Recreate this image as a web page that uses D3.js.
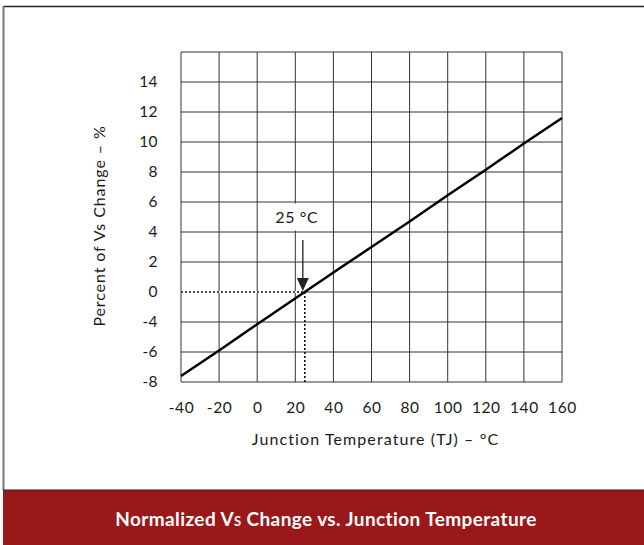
<!DOCTYPE html>
<html>
<head>
<meta charset="utf-8">
<script src="https://cdn.jsdelivr.net/npm/d3@7"></script>
<style>
  body { margin: 0; background: #fff; }
  text { font-family: Lato, "Open Sans", sans-serif; fill: #1a1a1a; }
</style>
</head>
<body>
<svg id="chart"></svg>
<script>
// data
var temps = [-40, -20, 0, 40, 60, 80, 100, 120, 140, 160];
var change = [-5.6, -3.9, -2.15, 1.3, 3.0, 4.7, 6.45, 8.15, 9.9, 11.6];
var xTicks = [-40, -20, 0, 20, 40, 60, 80, 100, 120, 140, 160];
var xTickLabels = ["-40", "-20", "0", "20", "40", "60", "80", "100", "120", "140", "160"];
var yTicks = [-6, -4, -2, 0, 2, 4, 6, 8, 10, 12, 14];
var yTickLabels = ["-8", "-6", "-4", "0", "2", "4", "6", "8", "10", "12", "14"];
var refTemp = 25;

var W = 644, H = 545;
var margin = {top: 52, right: 82, bottom: 163, left: 181},
    width = W - margin.left - margin.right,
    height = H - margin.top - margin.bottom;

var svg = d3.select("#chart").attr("width", W).attr("height", H);

// outer frame and banner
svg.append("line").attr("x1", 3).attr("x2", W).attr("y1", 6.5).attr("y2", 6.5)
  .attr("stroke", "#222").attr("stroke-width", 1.5);
svg.append("line").attr("x1", 3.5).attr("x2", 3.5).attr("y1", 6).attr("y2", 490)
  .attr("stroke", "#777").attr("stroke-width", 2);
svg.append("rect").attr("x", 3).attr("y", 490).attr("width", W - 3).attr("height", H - 490)
  .attr("fill", "#9a1819");
svg.append("line").attr("x1", 3).attr("x2", W).attr("y1", 490).attr("y2", 490)
  .attr("stroke", "#222").attr("stroke-width", 1.2);
var title = svg.append("text")
  .attr("x", 326).attr("y", 526)
  .attr("text-anchor", "middle")
  .attr("font-size", 19).attr("font-weight", "bold").attr("letter-spacing", 0.4)
  .style("fill", "#fff");
title.append("tspan").text("Normalized V");
title.append("tspan").attr("font-size", 13).text("S");
title.append("tspan").text(" Change vs. Junction Temperature");

var g = svg.append("g").attr("transform", "translate(" + margin.left + "," + margin.top + ")");

var x = d3.scaleLinear().domain([-40, 160]).range([0, width]);
var y = d3.scaleLinear().domain([-6, 16]).range([height, 0]);

// grid
g.append("g").attr("class", "grid")
  .selectAll("line").data(xTicks).enter().append("line")
  .attr("x1", function(d) { return x(d); }).attr("x2", function(d) { return x(d); })
  .attr("y1", 0).attr("y2", height)
  .attr("stroke", "#333").attr("stroke-width", 1);
g.append("g").attr("class", "grid")
  .selectAll("line").data(d3.range(-6, 17, 2)).enter().append("line")
  .attr("x1", 0).attr("x2", width)
  .attr("y1", function(d) { return y(d); }).attr("y2", function(d) { return y(d); })
  .attr("stroke", "#333").attr("stroke-width", 1);

// axes (labels only)
var xAxis = d3.axisBottom(x).tickValues(xTicks).tickSize(0).tickPadding(20)
  .tickFormat(function(d, i) { return xTickLabels[i]; });
var gx = g.append("g").attr("transform", "translate(0," + height + ")").call(xAxis);
gx.select(".domain").remove();
gx.selectAll("text").attr("font-size", 15.5).attr("letter-spacing", 0.6)
  .style("font-family", "Lato, sans-serif").attr("fill", "#1a1a1a");

var yAxis = d3.axisLeft(y).tickValues(yTicks).tickSize(0).tickPadding(23)
  .tickFormat(function(d, i) { return yTickLabels[i]; });
var gy = g.append("g").call(yAxis);
gy.select(".domain").remove();
gy.selectAll("text").attr("font-size", 15.5).attr("letter-spacing", 0.4)
  .style("font-family", "Lato, sans-serif").attr("fill", "#1a1a1a");

// axis titles
svg.append("text")
  .attr("transform", "translate(105," + (margin.top + 174) + ") rotate(-90)")
  .attr("text-anchor", "middle").attr("font-size", 16).attr("letter-spacing", 0.9)
  .text("Percent of Vs Change – %");
svg.append("text")
  .attr("x", margin.left + width / 2 + 4).attr("y", 445)
  .attr("text-anchor", "middle").attr("font-size", 16).attr("letter-spacing", 1.1)
  .text("Junction Temperature (TJ) – °C");

// 25 °C annotation
var xr = x(refTemp), y0 = y(0);
g.append("rect").attr("x", xr - 42).attr("y", y(6) + 1.5)
  .attr("width", 68).attr("height", y(4) - y(6) - 3).attr("fill", "#fff");
g.append("line").attr("x1", 0).attr("x2", xr).attr("y1", y0).attr("y2", y0)
  .attr("stroke", "#fff").attr("stroke-width", 2);
g.append("line").attr("x1", 0).attr("x2", xr).attr("y1", y0).attr("y2", y0)
  .attr("stroke", "#111").attr("stroke-width", 1.6).attr("stroke-dasharray", "2,2");
g.append("line").attr("x1", xr).attr("x2", xr).attr("y1", y0).attr("y2", height)
  .attr("stroke", "#111").attr("stroke-width", 1.6).attr("stroke-dasharray", "2,2");

// data line
var line = d3.line()
  .x(function(d) { return x(d[0]); })
  .y(function(d) { return y(d[1]); });
g.append("path")
  .datum(d3.zip(temps, change))
  .attr("d", line)
  .attr("fill", "none").attr("stroke", "#000").attr("stroke-width", 2.5);

// arrow
var ax = xr - 2;
g.append("line").attr("x1", ax).attr("x2", ax).attr("y1", y0 - 52).attr("y2", y0 - 12)
  .attr("stroke", "#222").attr("stroke-width", 1.3);
g.append("path")
  .attr("d", "M" + (ax - 6) + "," + (y0 - 14) + "L" + (ax + 6) + "," + (y0 - 14) + "L" + ax + "," + (y0 - 1) + "Z")
  .attr("fill", "#222");

g.append("text")
  .attr("x", xr - 8).attr("y", y(6) + 21)
  .attr("text-anchor", "middle").attr("font-size", 16).attr("letter-spacing", 0.6)
  .text("25 °C");
</script>
</body>
</html>
